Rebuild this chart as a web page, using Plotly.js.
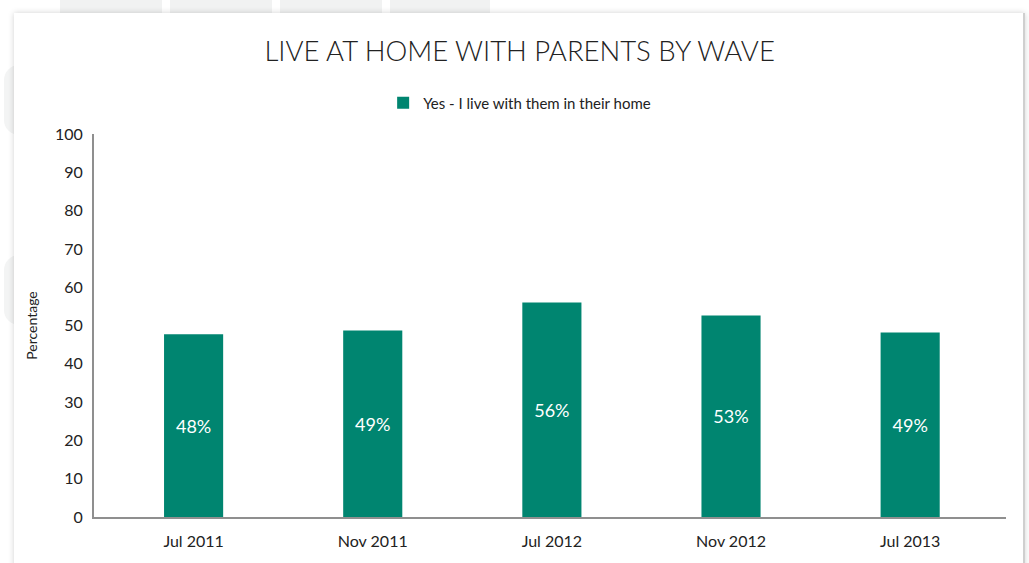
<!DOCTYPE html>
<html>
<head>
<meta charset="utf-8">
<script src="https://cdn.plot.ly/plotly-3.0.1.min.js"></script>
<style>
  html, body { margin: 0; padding: 0; background: #ffffff; width: 1029px; height: 563px; overflow: hidden; }
  .tab { position: absolute; top: 0; height: 14px; background: #f1f2f2; }
  .blob { position: absolute; left: 4px; width: 30px; height: 70px; border-radius: 15px; background: #f3f4f4; }
  #card { position: absolute; left: 14px; top: 13px; width: 1009px; height: 600px; background: #ffffff;
          box-shadow: 0 0 6px rgba(0,0,0,0.18); border-right: 2px solid #cfcfcf; }
  #chart { position: absolute; left: 0; top: 0; width: 1029px; height: 563px; }
</style>
</head>
<body>
<div class="tab" style="left:60px;width:102px"></div>
<div class="tab" style="left:170px;width:102px"></div>
<div class="tab" style="left:280px;width:102px"></div>
<div class="tab" style="left:390px;width:100px"></div>
<div class="blob" style="top:65px"></div>
<div class="blob" style="top:255px"></div>
<div id="card"></div>
<div id="chart"></div>
<script>
const waves = ["Jul 2011", "Nov 2011", "Jul 2012", "Nov 2012", "Jul 2013"];
const livingWithParents = [47.7, 48.7, 56.0, 52.6, 48.2];
const barLabels = ["48%", "49%", "56%", "53%", "49%"];
const seriesName = "Yes - I live with them in their home";

const FONT = "Lato, 'Open Sans', sans-serif";

const trace = {
  type: "bar",
  x: waves,
  y: livingWithParents,
  name: seriesName,
  text: barLabels,
  textposition: "inside",
  insidetextanchor: "middle",
  textfont: { family: FONT, size: 18, color: "#ffffff" },
  marker: { color: "#008570" },
  width: 0.33,
  hoverinfo: "x+y",
  showlegend: true
};

const layout = {
  width: 1029,
  height: 563,
  paper_bgcolor: "rgba(0,0,0,0)",
  plot_bgcolor: "rgba(0,0,0,0)",
  margin: { l: 94, r: 23, t: 134, b: 46 },
  font: { family: FONT, color: "#222222" },
  title: {
    text: "LIVE AT HOME WITH PARENTS BY WAVE",
    font: { family: FONT, size: 27.5, color: "#222222", weight: 300 },
    x: 0.505, xref: "container", xanchor: "center",
    y: 0.908, yref: "container", yanchor: "middle"
  },
  showlegend: true,
  legend: {
    orientation: "h",
    x: 0.505, xref: "container", xanchor: "center",
    y: 0.817, yref: "container", yanchor: "middle",
    font: { family: FONT, size: 15, color: "#222222" },
    bgcolor: "rgba(0,0,0,0)"
  },
  xaxis: {
    type: "category",
    range: [-0.556, 4.535],
    showline: true, linecolor: "#8f8f8f", linewidth: 2,
    ticks: "", showgrid: false, zeroline: false,
    tickfont: { family: FONT, size: 16, color: "#222222" },
    ticklabelstandoff: 9
  },
  yaxis: {
    range: [0, 100],
    dtick: 10,
    showline: true, linecolor: "#8f8f8f", linewidth: 2,
    ticks: "", showgrid: false, zeroline: false,
    tickfont: { family: FONT, size: 16, color: "#222222" },
    ticklabelstandoff: 6,
    title: { text: "Percentage", font: { family: FONT, size: 14, color: "#222222" }, standoff: 14 }
  },
  bargap: 0.67
};

Plotly.newPlot("chart", [trace], layout, { displayModeBar: false, staticPlot: true });
</script>
</body>
</html>
